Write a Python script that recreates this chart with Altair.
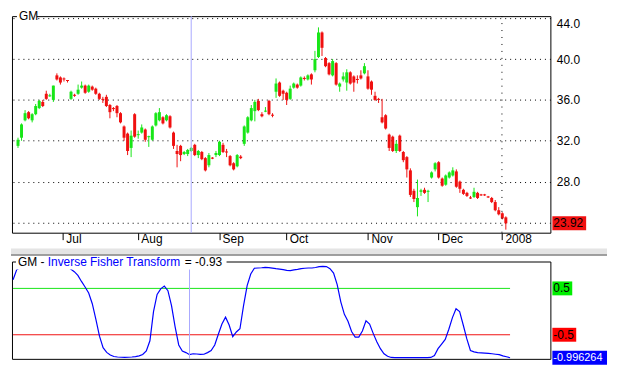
import altair as alt
import pandas as pd

symbol = "GM"
indicator = "Inverse Fisher Transform"

opens = [31.5, 32.3, 34.0, 34.8, 34.0, 34.6, 35.2, 35.8, 36.6, 36.4,
         36.0, 38.4, 38.2, 38.1, 37.95, 36.1, 36.5, 36.6, 37.2, 37.4,
         36.8, 37.3, 37.1, 36.6, 36.1, 36.3, 35.5, 35.2, 35.4, 34.7,
         33.4, 32.7, 31.3, 34.6, 32.6, 32.8, 33.1, 32.4, 32.1, 33.5,
         34.0, 34.3, 34.0, 34.4, 32.8, 31.0, 31.5, 30.7, 30.7, 31.0,
         31.6, 30.6, 30.9, 30.3, 29.6, 30.35, 30.6, 30.6, 31.6, 30.95,
         30.5, 29.8, 29.5, 30.45, 31.7, 32.8, 34.0, 34.9, 35.9, 34.6,
         34.9, 35.9, 34.55, 36.8, 37.7, 36.9, 36.7, 36.1, 37.2, 37.5,
         37.4, 38.15, 38.0, 38.5, 38.9, 40.2, 42.6, 40.1, 39.6, 38.4,
         39.6, 37.3, 38.0, 37.7, 38.7, 38.3, 38.05, 38.4, 38.6, 38.3,
         37.8, 36.4, 36.1, 34.3, 34.5, 32.6, 32.4, 31.0, 32.5, 30.9,
         30.4, 29.1, 27.1, 25.5, 27.0, 27.2, 27.05, 28.4, 29.2, 29.9,
         28.3, 27.7, 28.4, 28.6, 29.0, 28.0, 27.2, 26.9, 26.45, 26.5,
         26.9, 26.75, 26.75, 26.55, 26.4, 26.0, 25.2, 24.9, 24.5]
closes = [32.1, 33.6, 34.7, 34.2, 34.6, 35.4, 35.9, 35.4, 36.1, 36.45,
          37.4, 38.0, 37.7, 38.0, 37.9, 36.8, 36.4, 37.0, 37.4, 36.7,
          37.4, 37.0, 36.6, 36.1, 36.05, 35.4, 34.8, 35.1, 34.7, 33.8,
          32.3, 31.0, 32.5, 32.4, 32.65, 33.3, 32.1, 32.45, 33.4, 34.7,
          34.8, 33.7, 34.5, 33.3, 31.5, 30.7, 30.6, 30.9, 31.1, 31.3,
          30.6, 31.0, 30.2, 29.1, 30.6, 30.3, 30.8, 31.9, 30.9, 30.9,
          29.6, 29.2, 30.6, 30.3, 33.4, 34.3, 35.2, 35.8, 35.0, 34.4,
          34.95, 34.6, 34.5, 37.6, 36.4, 36.6, 36.0, 37.1, 37.6, 37.2,
          38.2, 38.1, 38.4, 38.0, 40.0, 42.6, 41.1, 39.3, 38.5, 39.8,
          37.5, 37.6, 38.3, 38.7, 37.6, 37.7, 38.0, 38.1, 39.3, 37.1,
          37.0, 36.0, 36.05, 33.8, 33.2, 31.3, 31.0, 31.7, 31.0, 30.1,
          29.2, 26.7, 26.3, 26.4, 27.15, 26.9, 27.1, 28.9, 29.8, 28.4,
          27.6, 28.6, 28.9, 29.1, 27.5, 27.3, 26.8, 26.6, 26.4, 27.0,
          26.4, 26.7, 26.7, 26.5, 26.0, 25.2, 24.8, 24.4, 23.92]
highs = [32.3, 33.7, 35.0, 34.9, 34.7, 35.6, 36.0, 36.0, 36.9, 36.6,
         37.4, 38.6, 38.3, 38.2, 37.95, 36.9, 36.6, 37.5, 37.8, 37.5,
         37.5, 37.4, 37.2, 36.7, 36.3, 36.5, 35.6, 35.3, 35.5, 34.8,
         33.5, 32.8, 33.0, 34.7, 33.0, 33.6, 33.2, 32.5, 33.5, 34.8,
         35.2, 34.4, 34.6, 34.5, 32.9, 31.6, 31.6, 31.0, 31.2, 31.4,
         31.7, 31.1, 31.0, 30.4, 30.8, 30.4, 31.0, 32.0, 31.8, 31.2,
         30.6, 29.9, 30.7, 30.6, 33.5, 34.4, 35.5, 36.0, 36.1, 34.8,
         35.3, 36.0, 34.7, 38.1, 37.8, 37.0, 36.8, 37.4, 37.7, 37.6,
         38.3, 38.3, 38.5, 38.6, 40.8, 43.1, 42.7, 40.2, 39.7, 40.0,
         39.7, 37.7, 38.7, 39.0, 38.8, 38.4, 38.4, 38.9, 39.6, 38.9,
         37.9, 36.8, 36.2, 36.1, 34.6, 32.7, 32.5, 32.0, 32.6, 31.0,
         30.5, 29.3, 27.3, 28.2, 27.3, 27.4, 27.2, 29.0, 29.9, 30.0,
         28.4, 28.7, 29.0, 29.4, 29.2, 28.1, 27.3, 27.0, 26.6, 27.4,
         27.0, 26.8, 26.8, 26.6, 26.5, 26.2, 25.5, 25.0, 24.6]
lows = [31.3, 32.0, 33.9, 34.1, 33.8, 34.5, 35.1, 35.3, 36.0, 36.3,
        35.8, 37.9, 37.5, 37.8, 37.7, 36.0, 36.3, 36.5, 37.1, 36.6,
        36.7, 36.9, 36.5, 36.0, 35.7, 35.3, 34.2, 34.9, 34.3, 33.7,
        32.0, 30.6, 30.4, 32.3, 32.2, 32.7, 31.9, 31.4, 32.0, 33.4,
        33.9, 33.6, 33.9, 33.2, 31.2, 29.4, 30.0, 30.6, 30.5, 30.9,
        30.5, 30.3, 30.1, 29.0, 29.4, 30.2, 30.4, 30.5, 30.8, 30.4,
        29.5, 29.1, 29.4, 30.2, 31.5, 32.7, 33.9, 33.9, 34.9, 34.3,
        34.8, 34.5, 34.3, 36.2, 36.3, 36.0, 35.5, 36.0, 37.1, 37.1,
        37.3, 37.9, 37.9, 37.5, 38.7, 40.1, 40.3, 39.2, 38.4, 38.3,
        37.4, 36.8, 37.8, 36.9, 37.5, 36.8, 37.6, 38.0, 38.5, 37.0,
        36.5, 35.9, 35.7, 33.7, 33.1, 31.0, 30.9, 30.8, 30.9, 29.9,
        28.4, 26.5, 26.0, 24.6, 26.6, 26.8, 26.0, 28.3, 29.0, 28.3,
        27.5, 27.6, 28.3, 28.5, 27.4, 26.9, 26.7, 26.5, 26.3, 26.4,
        26.3, 26.6, 26.6, 26.4, 25.9, 25.1, 24.7, 24.3, 23.3]
ift = [0.687, 0.9, 0.95, 0.97, 0.98, 0.98, 0.98, 0.97, 0.98, 0.98,
       0.98, 0.99, 0.99, 0.99, 0.98, 0.96, 0.92, 0.86, 0.78, 0.65,
       0.53, 0.4, 0.17, -0.17, -0.53, -0.78, -0.88, -0.935, -0.97, -0.98,
       -0.985, -0.987, -0.985, -0.98, -0.97, -0.955, -0.925, -0.85, -0.63, 0.0,
       0.37, 0.49, 0.55, 0.45, 0.13, -0.33, -0.72, -0.85, -0.885, -0.93,
       -0.91, -0.915, -0.925, -0.92, -0.885, -0.84, -0.72, -0.49, -0.27, -0.12,
       -0.29, -0.54, -0.44, -0.37, 0.13, 0.56, 0.81, 0.935, 0.94, 0.945,
       0.953, 0.948, 0.937, 0.925, 0.915, 0.905, 0.89, 0.885, 0.9, 0.91,
       0.925, 0.935, 0.94, 0.94, 0.95, 0.97, 0.975, 0.97, 0.925, 0.83,
       0.58, 0.21, -0.06, -0.21, -0.43, -0.55, -0.55, -0.42, -0.2, -0.27,
       -0.47, -0.65, -0.8, -0.91, -0.965, -0.99, -0.993, -0.993, -0.993, -0.993,
       -0.993, -0.993, -0.993, -0.993, -0.993, -0.993, -0.99, -0.95, -0.8, -0.7,
       -0.6, -0.38, -0.13, 0.06, 0.0, -0.29, -0.59, -0.84, -0.87, -0.885,
       -0.89, -0.895, -0.9, -0.91, -0.92, -0.93, -0.955, -0.975, -0.996]

month_labels = ["Jul", "Aug", "Sep", "Oct", "Nov", "Dec", "2008"]
month_pos = [12.7, 33.9, 56.9, 75.9, 99.0, 118.9, 136.9]
price_ticks = [24, 28, 32, 36, 40, 44]
ift_levels = [0.5, -0.5]
ift_level_labels = ["0.5", "-0.5"]
cursor_index = 49
cursor_value_text = "= -0.93"
last_price_text = "23.92"
last_ift_text = "-0.996264"

W = 542
H1 = 218
H2 = 98
FONT = "Liberation Sans"
UP = "#18e618"
DOWN = "#f01010"
CURSOR = "#a8a8ff"

n = len(closes)
idx = list(range(n))
candles = pd.DataFrame({"i": idx, "open": opens, "high": highs, "low": lows, "close": closes})
ift_df = pd.DataFrame({"i": idx, "v": ift})

xscale = alt.Scale(domain=[-0.3, 149.2], nice=False, zero=False)
yprice = alt.Scale(domain=[23.0, 44.2], nice=False, zero=False)
yift = alt.Scale(domain=[-1.02, 1.08], nice=False, zero=False)
dir_scale = alt.Scale(domain=["up", "down"], range=[UP, DOWN])

month_expr = ("[" + ",".join("'%s'" % m for m in month_labels) + "][indexof(["
              + ",".join(str(p) for p in month_pos) + "], datum.value)]")

base = alt.Chart(candles).transform_calculate(
    dir="datum.close >= datum.open ? 'up' : 'down'",
    top="max(datum.open, datum.close)",
    bot="abs(datum.open - datum.close) < 0.1 ? max(datum.open, datum.close) - 0.1 : min(datum.open, datum.close)",
)

wicks = base.mark_rule(strokeWidth=1).encode(
    x=alt.X("i:Q", scale=xscale, title=None,
            axis=alt.Axis(values=month_pos, labelExpr=month_expr, grid=False, domain=False,
                          tickSize=7, tickColor="black", tickWidth=1, labelAlign="left",
                          labelBaseline="top", labelPadding=-6, labelOffset=3, labelFontSize=12,
                          labelFont=FONT, labelColor="black", labelOverlap=False, labelFlush=False)),
    y=alt.Y("low:Q", scale=yprice, title=None,
            axis=alt.Axis(orient="right", values=price_ticks, grid=True, gridDash=[1, 4],
                          gridColor="black", gridOpacity=1, gridWidth=1, ticks=False, domain=False,
                          labelExpr="datum.value == 24 ? '' : format(datum.value, '.1f')",
                          labelPadding=6, labelFontSize=12, labelFont=FONT, labelColor="black",
                          labelAlign="left", labelFlush=4)),
    y2="high:Q",
    color=alt.Color("dir:N", scale=dir_scale, legend=None),
)
bodies = base.mark_bar(size=3, strokeWidth=0).encode(
    x=alt.X("i:Q", title=None),
    y=alt.Y("top:Q", title=None),
    y2="bot:Q",
    color=alt.Color("dir:N", scale=dir_scale, legend=None),
)
year_line = alt.Chart(pd.DataFrame({"p": [month_pos[-1]]})).mark_rule(
    color="black", strokeDash=[1, 6], strokeWidth=1).encode(x=alt.X("p:Q", title=None))
cursor_main = alt.Chart(pd.DataFrame({"c": [cursor_index]})).mark_rule(
    color=CURSOR, strokeWidth=1).encode(x=alt.X("c:Q", title=None))


def tag(value, label, fill, tcolor, width, yscale, size=12):
    d = pd.DataFrame({"v": [value], "t": [label]})
    r = alt.Chart(d).mark_rect(height=14, color=fill).encode(
        x=alt.value(W + 2), x2=alt.value(W + 2 + width),
        y=alt.Y("v:Q", scale=yscale, title=None))
    t = alt.Chart(d).mark_text(align="left", baseline="middle", color=tcolor,
                               font=FONT, fontSize=size).encode(
        x=alt.value(W + 3), y=alt.Y("v:Q", scale=yscale, title=None), text="t:N")
    return [r, t]


title_df = pd.DataFrame({"t": [symbol]})
main_title_bg = alt.Chart(title_df).mark_rect(color="white").encode(
    x=alt.value(5), x2=alt.value(25), y=alt.value(-6), y2=alt.value(6))
main_title = alt.Chart(title_df).mark_text(align="left", baseline="middle", font=FONT,
                                           fontSize=12, color="black").encode(
    x=alt.value(7), y=alt.value(0), text="t:N")

main = alt.layer(
    wicks, bodies, year_line, cursor_main,
    *tag(closes[-1], last_price_text, DOWN, "black", 34, yprice),
    main_title_bg, main_title,
).properties(width=W, height=H1)

# lower panel
lv = pd.DataFrame({"v": ift_levels, "lab": ift_level_labels, "x0": [0, 0], "x1": [n - 1, n - 1]})
level_rules = alt.Chart(lv).mark_rule(strokeWidth=1).encode(
    x=alt.X("x0:Q", scale=xscale, axis=None, title=None), x2="x1:Q",
    y=alt.Y("v:Q", scale=yift, axis=None, title=None),
    color=alt.Color("lab:N", scale=alt.Scale(domain=ift_level_labels, range=["#00dd00", "#ff0000"]),
                    legend=None),
)
ift_line = alt.Chart(ift_df).mark_line(color="#0000ff", strokeWidth=1.2).encode(
    x=alt.X("i:Q", title=None), y=alt.Y("v:Q", title=None))
cursor_low = alt.Chart(pd.DataFrame({"c": [cursor_index]})).mark_rule(
    color=CURSOR, strokeWidth=1).encode(x=alt.X("c:Q", title=None))

split_df = pd.DataFrame({"t": ["split"]})
split_band = alt.Chart(split_df).mark_rect(color="#e4e4e4").encode(
    x=alt.value(-1), x2=alt.value(W + 57), y=alt.value(-13), y2=alt.value(-7))
split_line = alt.Chart(split_df).mark_rule(color="#808080", strokeWidth=1.5).encode(
    x=alt.value(-1), x2=alt.value(W + 57), y=alt.value(-6.5))

low_title_df = pd.DataFrame({"a": [symbol + " -"], "b": [indicator], "c": [cursor_value_text]})
low_title_bg = alt.Chart(low_title_df).mark_rect(color="white").encode(
    x=alt.value(4), x2=alt.value(216), y=alt.value(-5), y2=alt.value(8))
low_t1 = alt.Chart(low_title_df).mark_text(align="left", baseline="middle", font=FONT,
                                           fontSize=12, color="black").encode(
    x=alt.value(6), y=alt.value(1), text="a:N")
low_t2 = alt.Chart(low_title_df).mark_text(align="left", baseline="middle", font=FONT,
                                           fontSize=12, color="#0000ff").encode(
    x=alt.value(36), y=alt.value(1), text="b:N")
low_t3 = alt.Chart(low_title_df).mark_text(align="left", baseline="middle", font=FONT,
                                           fontSize=12, color="black").encode(
    x=alt.value(174), y=alt.value(1), text="c:N")

lower = alt.layer(
    level_rules, ift_line, cursor_low,
    *tag(ift_levels[0], ift_level_labels[0], "#00ee00", "black", 20, yift),
    *tag(ift_levels[1], ift_level_labels[1], "#ff0000", "black", 24, yift),
    *tag(ift[-1], last_ift_text, "#0000ff", "white", 55, yift, size=11),
    split_band, split_line, low_title_bg, low_t1, low_t2, low_t3,
).properties(width=W, height=H2)

chart = alt.vconcat(main, lower, spacing=2).configure_view(
    stroke="black", strokeWidth=1
).properties(padding={"left": 1, "top": 0, "right": 0, "bottom": 0}, background="white")

chart.save("out.html", embed_options={"renderer": "svg", "actions": False})
